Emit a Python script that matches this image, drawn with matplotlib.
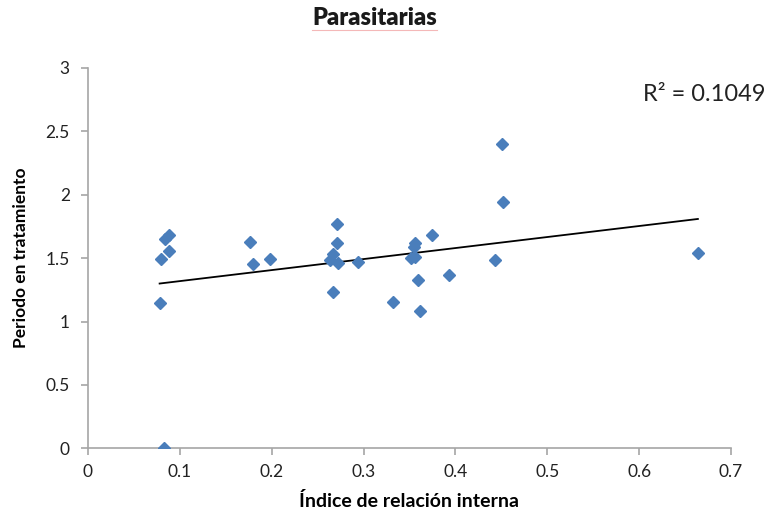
import matplotlib.pyplot as plt
import numpy as np

plt.rcParams['font.family'] = ['Lato', 'DejaVu Sans']

# Indice de relacion interna vs periodo en tratamiento
indice = [0.078, 0.083, 0.080, 0.084, 0.088, 0.088, 0.176, 0.180, 0.198,
          0.271, 0.271, 0.267, 0.264, 0.272, 0.267, 0.294, 0.332, 0.356,
          0.355, 0.356, 0.352, 0.374, 0.359, 0.393, 0.362, 0.443, 0.451,
          0.452, 0.664]
periodo = [1.148, 0.0, 1.495, 1.648, 1.682, 1.556, 1.629, 1.453, 1.497,
           1.769, 1.619, 1.532, 1.485, 1.459, 1.235, 1.467, 1.151, 1.621,
           1.590, 1.506, 1.500, 1.682, 1.327, 1.367, 1.083, 1.483, 2.400,
           1.942, 1.538]
r2_text = 'R² = 0.1049'

x = np.array(indice)
y = np.array(periodo)

fig = plt.figure(figsize=(7.67, 5.21), dpi=100)
ax = fig.add_axes([0.1147, 0.1395, 0.8383, 0.730])

ax.plot(x, y, 'D', color='#4A7EBB', ms=6.5, mec='#4A7EBB', zorder=3)

# linear trend line
m, b = np.polyfit(x, y, 1)
xt = np.array([x.min(), x.max()])
ax.plot(xt, m * xt + b, color='black', lw=1.3, zorder=2)

ax.set_xlim(0, 0.7)
ax.set_ylim(0, 3)
ax.set_xticks(np.arange(0, 0.71, 0.1))
ax.set_xticklabels(['0', '0.1', '0.2', '0.3', '0.4', '0.5', '0.6', '0.7'])
ax.set_yticks(np.arange(0, 3.01, 0.5))
ax.set_yticklabels(['0', '0.5', '1', '1.5', '2', '2.5', '3'])

for s in ['top', 'right']:
    ax.spines[s].set_visible(False)
for s in ['left', 'bottom']:
    ax.spines[s].set_color('#a6a6a6')
    ax.spines[s].set_linewidth(1.2)
ax.tick_params(colors='#a6a6a6', labelcolor='#222222', labelsize=12.5,
               length=5, width=1.2)
ax.tick_params(axis='x', pad=6)
ax.tick_params(axis='y', pad=8)

ax.set_xlabel('Índice de relación interna', fontsize=14, fontweight='bold',
              labelpad=9)
ax.set_ylabel('Periodo en tratamiento', fontsize=12.5, fontweight='bold',
              labelpad=12)
fig.text(0.488, 0.965, 'Parasitarias', ha='center', va='center',
         fontsize=17, fontweight='heavy', color='#1a1a1a')
fig.add_artist(plt.Line2D([0.407, 0.570], [0.943, 0.943], color='#f4b8b8',
                          lw=0.8))
fig.text(0.998, 0.818, r2_text, ha='right', va='center', fontsize=17,
         color='#222222')

fig.savefig('out.png', dpi=100)
